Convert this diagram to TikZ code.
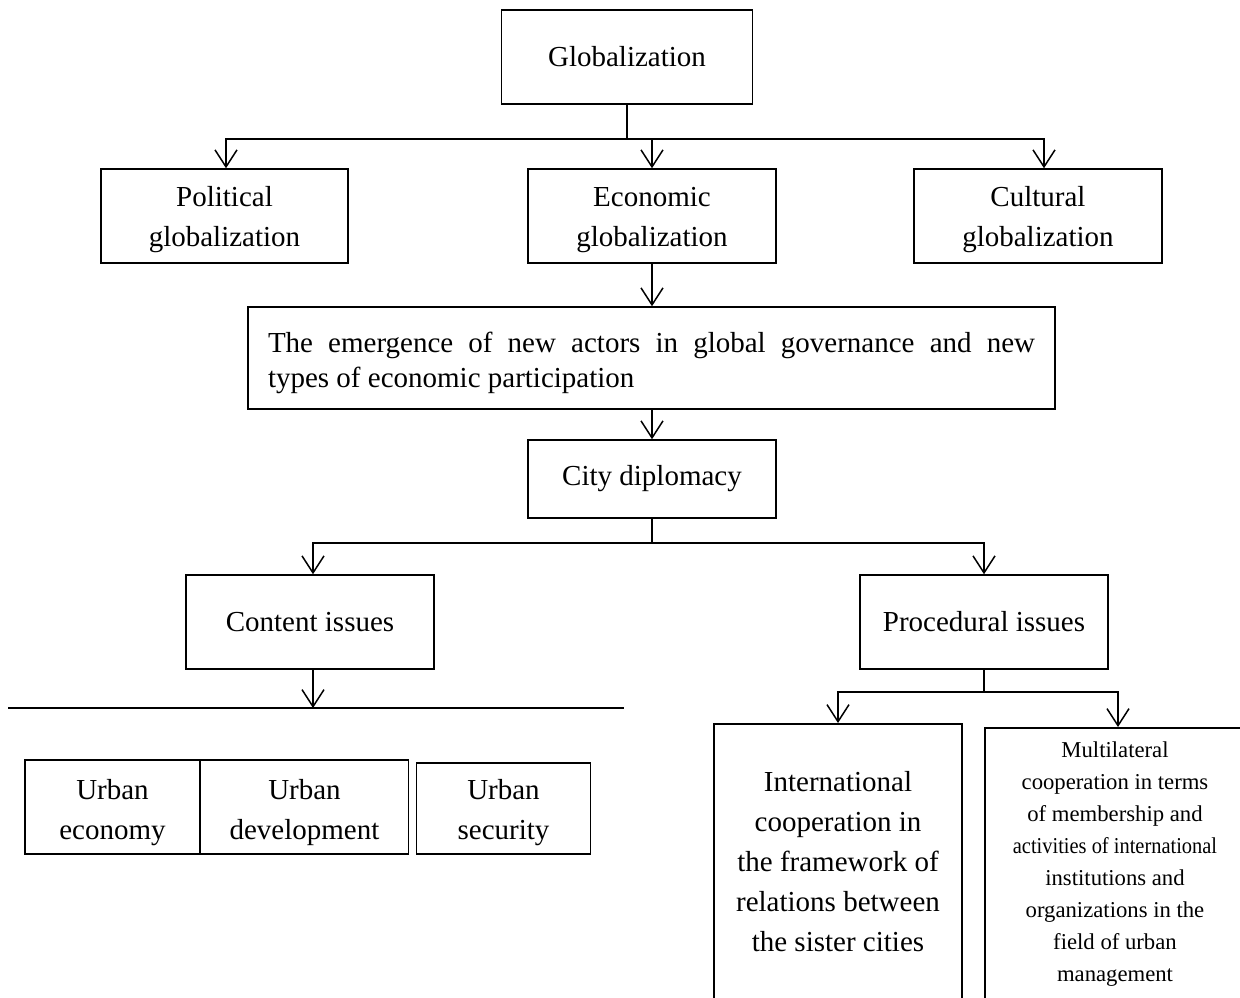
\documentclass[tikz,border=0pt]{standalone}
\usepackage{fontspec}
\setmainfont{Liberation Serif}
\usepackage{graphicx}
\usetikzlibrary{arrows.meta,calc}

\newcommand\mainsize{\fontsize{29}{40}\selectfont}
\newcommand\smallsize{\fontsize{22.7}{32}\selectfont}
% two centred lines; the rule in the first row sets how low the pair sits
\newcommand\twoline[3][32pt]{\begin{tabular}{@{}c@{}}\rule{0pt}{#1}#2\\#3\end{tabular}}

\tikzset{
  box/.style={draw, line width=1.5pt, inner sep=0pt, align=center, font=\mainsize},
  txt/.style={inner sep=0pt, align=center},
  link/.style={line width=1.5pt},
  arr/.style={line width=1.5pt, -{Straight Barb[length=17pt,width=22pt,line width=1.5pt]}},
}

\begin{document}
\begin{tikzpicture}[x=1pt,y=-1pt]
\useasboundingbox (0,0) rectangle (1240,997);
\clip (0,0) rectangle (1240,997);

% top level
\node[box, minimum width=251pt, minimum height=94pt] (glob) at (627,57) {Globalization};

% three kinds of globalization
\node[box, minimum width=247pt, minimum height=94pt] (pol) at (224.5,216) {\twoline{Political}{globalization}};
\node[box, minimum width=248pt, minimum height=94pt] (eco) at (652,216) {\twoline{Economic}{globalization}};
\node[box, minimum width=248pt, minimum height=94pt] (cul) at (1038,216) {\twoline{Cultural}{globalization}};

% new actors
\node[box, minimum width=807pt, minimum height=102pt] (emer) at (651.5,358)
  {\parbox{767pt}{\fontsize{29}{35}\selectfont\hyphenpenalty=10000\noindent
   \rule{0pt}{30pt}The emergence of new actors in global governance and new\linebreak
   types of economic participation}};

\node[box, minimum width=248pt, minimum height=78pt] (city) at (652,479) {City diplomacy};

\node[box, minimum width=248pt, minimum height=94pt] (cont) at (310,622) {Content issues};
\node[box, minimum width=248pt, minimum height=94pt] (proc) at (984,622) {Procedural issues};

% content issues branch
\coordinate (cl) at (8,708);
\coordinate (cr) at (624,708);
\node[box, minimum width=175pt, minimum height=94pt] (uecon) at (112.5,807) {\twoline[36pt]{Urban}{economy}};
\node[box, minimum width=208pt, minimum height=94pt] (udev) at (304.5,807) {\twoline[36pt]{Urban}{development}};
\node[box, minimum width=174pt, minimum height=91pt] (usec) at (503.5,808.5) {\twoline[34pt]{Urban}{security}};

% procedural issues branch (boxes run past the lower edge)
\node[box, minimum width=248pt, minimum height=320pt, anchor=north] (intl) at (838,723) {};
\node[box, minimum width=300pt, minimum height=320pt, anchor=north west] (multi) at (984,727) {};
\node[txt, font=\mainsize] (intltxt) at (838,862)
  {International\\cooperation in\\the framework of\\relations between\\the sister cities};
\node[txt, font=\smallsize] (multitxt) at (1115,864)
  {Multilateral\\cooperation in terms\\of membership and\\\scalebox{0.9}[1]{activities of international}\\institutions and\\organizations in the\\field of urban\\management};

% connectors
\coordinate (b1) at (627,139);
\draw[link] (glob.south) -- (b1);
\draw[arr] (b1) -| ($(pol.north)+(1.5,0)$);
\draw[arr] (b1) -| (eco.north);
\draw[arr] (b1) -| ($(cul.north)+(6,0)$);

\draw[arr] (eco.south) -- (emer.north -| eco.south);
\draw[arr] (emer.south -| city.north) -- (city.north);

\coordinate (b2) at (652,543);
\draw[link] (city.south) -- (b2);
\draw[arr] (b2) -| ($(cont.north)+(3,0)$);
\draw[arr] (b2) -| (proc.north);

\draw[link] (cl) -- (cr);
\draw[arr] ($(cont.south)+(3,0)$) -- (cl -| 313,0);

\coordinate (b3) at (984,692);
\draw[link] (proc.south) -- (b3);
\draw[arr] (b3) -| (intl.north);
\draw[arr] (b3) -| ($(multi.north west)+(134,0)$);
\end{tikzpicture}
\end{document}
